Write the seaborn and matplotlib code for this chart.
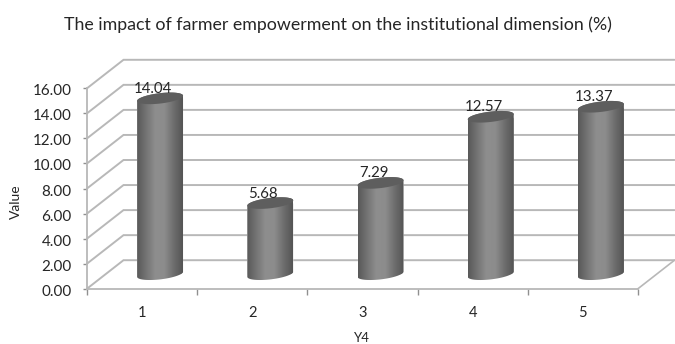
import numpy as np
import matplotlib
matplotlib.use("Agg")
import matplotlib.pyplot as plt
import seaborn as sns
import pandas as pd
from matplotlib.colors import LinearSegmentedColormap
from matplotlib.patches import Polygon
from matplotlib.transforms import Affine2D, ScaledTranslation

categories = ["1", "2", "3", "4", "5"]
values = [14.04, 5.68, 7.29, 12.57, 13.37]
value_labels = ["14.04", "5.68", "7.29", "12.57", "13.37"]
y_ticks = [0, 2, 4, 6, 8, 10, 12, 14, 16]
title = "The impact of farmer empowerment on the institutional dimension (%)"
x_label = "Y4"
y_label = "Value"

W, H = 675, 344
sns.set_theme(style="white")
plt.rcParams['font.family'] = ['Lato', 'DejaVu Sans']
TXT = "#262626"
GRID = "#b8b8b8"

fig = plt.figure(figsize=(W / 100, H / 100), dpi=100, facecolor="white")
L, R, B, T = 87, 638, 288.7, 88.3
ax = fig.add_axes([L / W, 1 - B / H, (R - L) / W, (B - T) / H])

df = pd.DataFrame({"cat": categories, "val": values})
sns.barplot(data=df, x="cat", y="val", ax=ax, color="#777777", saturation=1,
            width=0.417, errorbar=None, zorder=4)
ax.set_xlim(-0.5, 4.5)
ax.set_ylim(0, 16)

px_x = (R - L) / 5      # pixels per category
px_y = (B - T) / 16     # pixels per value unit
DX, DY = 18 / px_x, 14.5 / px_y            # half depth: where the bars stand
BX, BY = 36.5 / px_x, 28.5 / px_y          # full depth: the back wall
depth = Affine2D().translate(DX, DY) + ax.transData

# walls
for t in y_ticks:
    ax.plot([-0.5, -0.5 + BX, 4.5 + BX], [t, t + BY, t + BY], color=GRID, lw=1.4,
            clip_on=False, zorder=1, solid_joinstyle="miter")
ax.plot([4.5, 4.5 + BX], [0, BY], color=GRID, lw=1.2, clip_on=False, zorder=1)

# cylinders
grad = LinearSegmentedColormap.from_list(
    "cyl", ["#585858", "#747474", "#8e8e8e", "#8c8c8c", "#6e6e6e", "#545454"])
g = np.linspace(0, 1, 128).reshape(1, -1)
a = 0.417 / 2
b = 5.2 / px_y
s = 2.6 / px_y
th = np.linspace(0, 2 * np.pi, 80)
lower = np.linspace(np.pi, 2 * np.pi, 40)
upper = np.linspace(0, np.pi, 40)
for i, (bar, v) in enumerate(zip(ax.containers[0], values)):
    body = np.vstack([
        np.c_[i + a * np.cos(lower), b * np.sin(lower) + s * np.cos(lower)],
        np.c_[i + a * np.cos(upper), v + b * np.sin(upper) + s * np.cos(upper)],
    ])
    clip = Polygon(body, closed=True, transform=depth, fc="none", ec="none", zorder=4)
    ax.add_patch(clip)
    bar.set_transform(depth)
    bar.set_clip_path(clip)
    bar.set_clip_on(True)
    im = ax.imshow(g, extent=[i - a, i + a, -1, v + 1], cmap=grad, aspect="auto",
                   transform=depth, zorder=5, interpolation="bilinear")
    im.set_clip_path(clip)
    ax.add_patch(Polygon(np.c_[i + a * np.cos(th), v + b * np.sin(th) + s * np.cos(th)],
                         closed=True, transform=depth, fc="#5e5e5e", ec="none", zorder=6,
                         clip_on=False))
    ax.annotate(value_labels[i], xy=(i, v), xycoords=depth, xytext=(-7 * .72, 9.5 * .72),
                textcoords="offset points", ha="center", va="center", fontsize=10.8,
                color=TXT, zorder=7, annotation_clip=False)

ax.set_xlim(-0.5, 4.5)
ax.set_ylim(0, 16)

# axes
sns.despine(ax=ax, top=True, right=True)
for sp in ("left", "bottom"):
    ax.spines[sp].set_color(GRID)
    ax.spines[sp].set_linewidth(1.3)
    ax.spines[sp].set_zorder(2)
ax.set_yticks(y_ticks, [f"{t:.2f}" for t in y_ticks])
ax.set_xticks(range(5), categories)
ax.set_xticks(np.arange(-0.5, 5), minor=True)
ax.tick_params(axis="y", which="major", left=True, length=3, width=1, color="#909090", pad=8,
               labelsize=10.9, labelcolor=TXT)
ax.tick_params(axis="x", which="major", bottom=False, length=0, pad=12.5,
               labelsize=10.5, labelcolor=TXT)
ax.tick_params(axis="x", which="minor", bottom=True, length=4, width=1, color="#909090")
ax.set_xlabel("")
ax.set_ylabel("")
shift_down = ScaledTranslation(0, -1.5 / 100, fig.dpi_scale_trans)
for lab in ax.get_yticklabels():
    lab.set_transform(lab.get_transform() + shift_down)

fig.text(338 / W, 1 - 25 / H, title, ha="center", va="center", fontsize=12.8, color=TXT)
fig.text(362 / W, 1 - 338.5 / H, x_label, ha="center", va="center", fontsize=9.5, color=TXT)
fig.text(16 / W, 1 - 202 / H, y_label, ha="center", va="center", rotation=90, fontsize=10, color=TXT)

fig.savefig("out.png", dpi=100, facecolor="white")
